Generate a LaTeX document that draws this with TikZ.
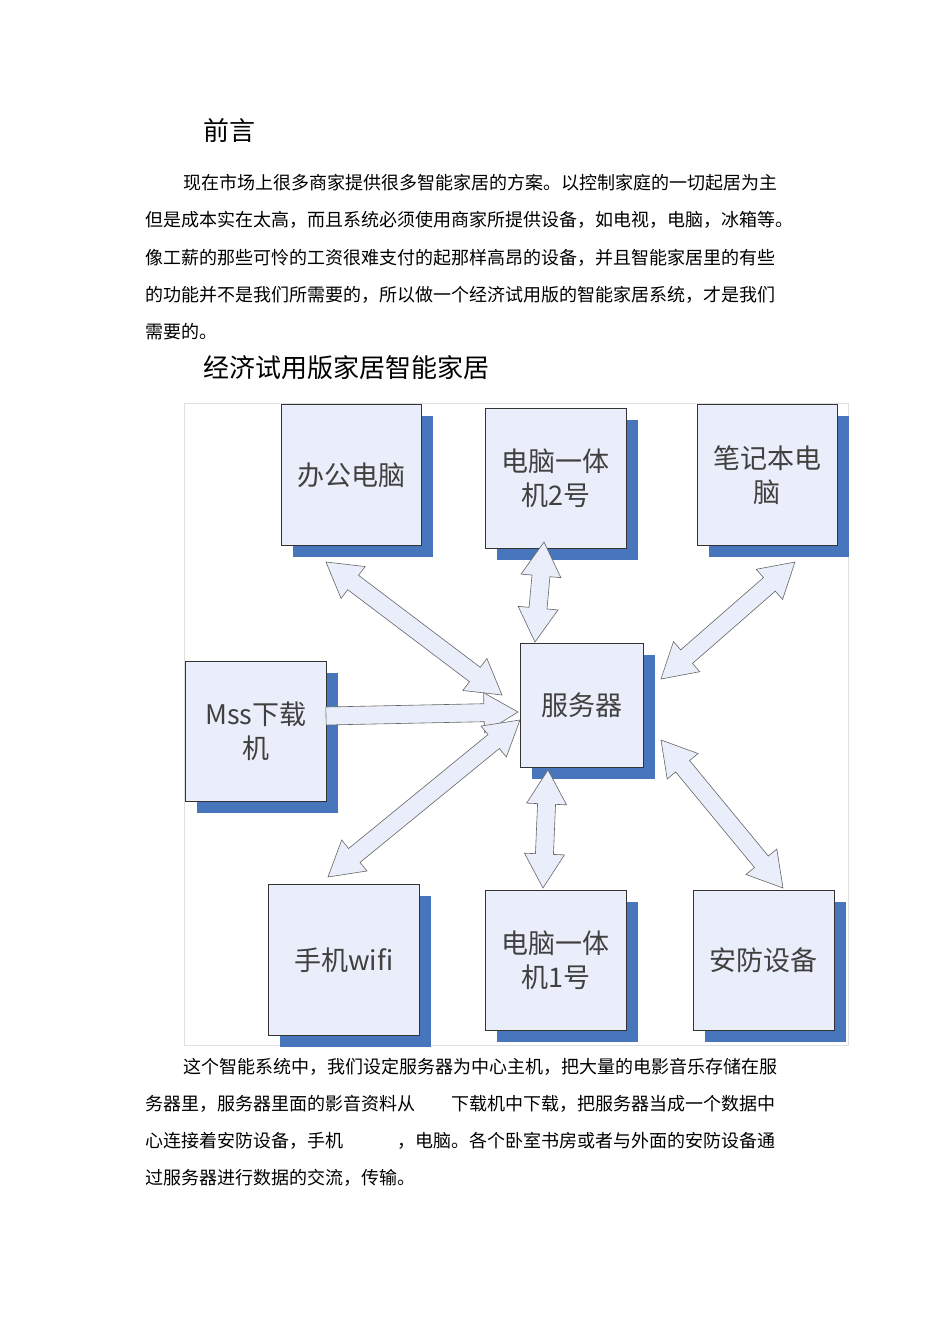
\documentclass[tikz,border=0pt]{standalone}
\usepackage{fontspec}
\setmainfont{Noto Sans CJK SC}
\usetikzlibrary{calc}
\definecolor{boxfill}{RGB}{234,238,250}
\definecolor{shade}{RGB}{72,118,188}
\tikzset{
  x=1pt,y=-1pt,
  bx/.style={draw=black!80,fill=boxfill,line width=0.8pt,anchor=north west,inner sep=0pt,align=center,font=\fontsize{27}{34}\selectfont,text=black!75},
  sh/.style={fill=shade},
  barr/.style={draw=black!60,fill=boxfill,line width=0.6pt,line join=miter},
  para/.style={anchor=base west,inner sep=0pt,font=\fontsize{18}{18}\selectfont},
  ttl/.style={anchor=base west,inner sep=0pt,font=\fontsize{26}{26}\selectfont}
}
\def\sw{9pt}\def\hw{20pt}\def\hl{34pt}
\newcommand\dbarrow[2]{%
  \path[barr] (#1) -- ($($(#1)!\hl!(#2)$)!\hw!90:(#2)$) -- ($($(#1)!\hl!(#2)$)!\sw!90:(#2)$)
   -- ($($(#2)!\hl!(#1)$)!\sw!-90:(#1)$) -- ($($(#2)!\hl!(#1)$)!\hw!-90:(#1)$) -- (#2)
   -- ($($(#2)!\hl!(#1)$)!\hw!90:(#1)$) -- ($($(#2)!\hl!(#1)$)!\sw!90:(#1)$)
   -- ($($(#1)!\hl!(#2)$)!\sw!-90:(#2)$) -- ($($(#1)!\hl!(#2)$)!\hw!-90:(#2)$) -- cycle;}
\newcommand\sgarrow[2]{%
  \path[barr] ($(#1)!\sw!90:(#2)$)
   -- ($($(#2)!\hl!(#1)$)!\sw!-90:(#1)$) -- ($($(#2)!\hl!(#1)$)!\hw!-90:(#1)$) -- (#2)
   -- ($($(#2)!\hl!(#1)$)!\hw!90:(#1)$) -- ($($(#2)!\hl!(#1)$)!\sw!90:(#1)$)
   -- ($(#1)!\sw!-90:(#2)$) -- cycle;}
\newcommand\bbox[6]{% name, x1,y1,x2,y2, text
  \fill[sh] (#2+12,#3+12) rectangle (#4+12,#5+12);
  \node[bx,minimum width=#4pt-#2pt,minimum height=#5pt-#3pt] (#1) at (#2,#3) {#6};}
\begin{document}
\begin{tikzpicture}
\useasboundingbox[fill=white] (0,0) rectangle (950,1344);
\node[ttl] (t1) at (203,140) {前言};
\node[para] (p1) at (183,189) {现在市场上很多商家提供很多智能家居的方案。以控制家庭的一切起居为主};
\node[para] (p2) at (145,226) {但是成本实在太高，而且系统必须使用商家所提供设备，如电视，电脑，冰箱等。};
\node[para] (p3) at (145,264) {像工薪的那些可怜的工资很难支付的起那样高昂的设备，并且智能家居里的有些};
\node[para] (p4) at (145,301) {的功能并不是我们所需要的，所以做一个经济试用版的智能家居系统，才是我们};
\node[para] (p5) at (145,338) {需要的。};
\node[ttl] (t2) at (203,377) {经济试用版家居智能家居};
\draw[black!12,line width=0.8pt] (184,403) rectangle (848,1045);
\bbox{b1}{281}{404}{421}{545}{办公电脑}
\bbox{b2}{485}{408}{626}{548}{电脑一体\\机2号}
\bbox{b3}{697}{404}{837}{545}{笔记本电\\脑}
\bbox{b4}{185}{661}{326}{801}{Mss下载\\机}
\bbox{sv}{520}{643}{643}{767}{服务器}
\bbox{b5}{268}{884}{419}{1035}{手机wifi}
\bbox{b6}{485}{890}{626}{1030}{电脑一体\\机1号}
\bbox{b7}{693}{890}{834}{1030}{安防设备}
\coordinate (a1) at (326,562); \coordinate (s1) at (502,695);
\coordinate (a2) at (544,542); \coordinate (s2) at (535,642);
\coordinate (a3) at (795,562); \coordinate (s3) at (661,679);
\coordinate (a4) at (326,716); \coordinate (s4) at (518,712);
\coordinate (a5) at (328,877); \coordinate (s5) at (520,720);
\coordinate (a6) at (543,888); \coordinate (s6) at (548,770);
\coordinate (a7) at (783,888); \coordinate (s7) at (661,740);
\dbarrow{a1}{s1}
\dbarrow{a2}{s2}
\dbarrow{a3}{s3}
\sgarrow{a4}{s4}
\dbarrow{a5}{s5}
\dbarrow{a6}{s6}
\dbarrow{a7}{s7}
\node[para] (q1) at (183,1073) {这个智能系统中，我们设定服务器为中心主机，把大量的电影音乐存储在服};
\node[para] (q2) at (145,1110) {务器里，服务器里面的影音资料从\hspace{36pt}下载机中下载，把服务器当成一个数据中};
\node[para] (q3) at (145,1147) {心连接着安防设备，手机\hspace{54pt}，电脑。各个卧室书房或者与外面的安防设备通};
\node[para] (q4) at (145,1184) {过服务器进行数据的交流，传输。};
\end{tikzpicture}
\end{document}
